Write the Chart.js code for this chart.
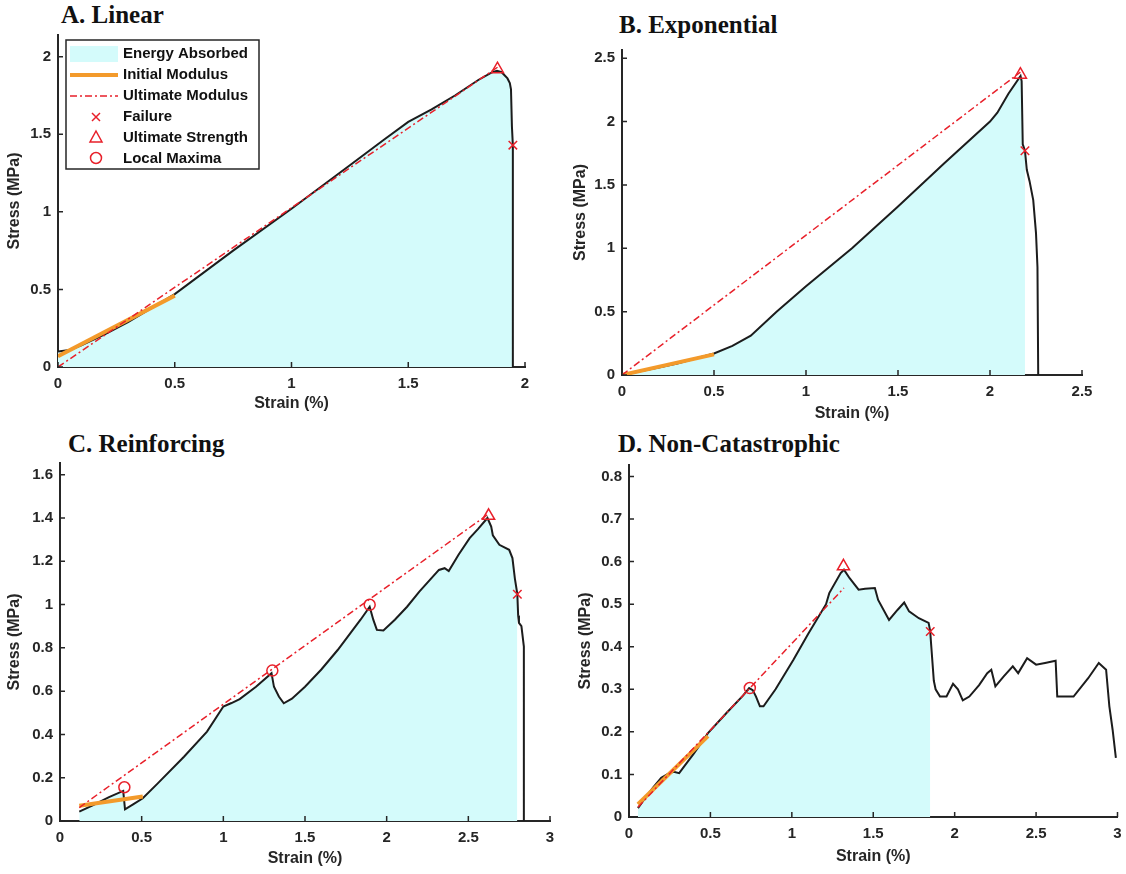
<!DOCTYPE html>
<html>
<head>
<meta charset="utf-8">
<script src="https://cdn.jsdelivr.net/npm/chart.js@4.4.1/dist/chart.umd.min.js"></script>
<style>
  body { margin: 0; background: #fff; width: 1126px; height: 874px; position: relative; overflow: hidden; }
  canvas { position: absolute; }
  .ttl { position: absolute; font: bold 25px "Liberation Serif", "Times New Roman", serif; line-height: 25px; color: #111; white-space: nowrap; }
</style>
</head>
<body>
<div class="ttl" style="left:61px;top:2px">A. Linear</div>
<div class="ttl" style="left:619px;top:12px">B. Exponential</div>
<div class="ttl" style="left:68px;top:431px">C. Reinforcing</div>
<div class="ttl" style="left:618px;top:431px">D. Non-Catastrophic</div>
<canvas id="cA" width="563" height="430" style="left:0;top:0"></canvas>
<canvas id="cB" width="563" height="430" style="left:563px;top:0"></canvas>
<canvas id="cC" width="563" height="444" style="left:0;top:430px"></canvas>
<canvas id="cD" width="563" height="444" style="left:563px;top:430px"></canvas>
<script>
// A. Linear
const linStrain = [0, 0.05, 0.1, 0.2, 0.3, 0.4, 0.5, 0.75, 1.0, 1.25, 1.4, 1.5, 1.6, 1.7, 1.8, 1.86, 1.88, 1.9, 1.925, 1.935, 1.94, 1.944, 1.948, 1.948];
const linStress = [0.10, 0.11, 0.14, 0.21, 0.29, 0.38, 0.47, 0.75, 1.02, 1.30, 1.47, 1.58, 1.66, 1.75, 1.85, 1.90, 1.91, 1.90, 1.86, 1.83, 1.79, 1.55, 1.43, 0];
const linInitial = [[0, 0.07], [0.5, 0.46]];
const linUltimate = [[0, 0], [1.89, 1.94]];
const linFailure = [1.948, 1.43];
const linPeak = [1.882, 1.92];
const linMaxima = [];

// B. Exponential
const expStrain = [0, 0.1, 0.2, 0.3, 0.4, 0.5, 0.6, 0.7, 0.84, 1.0, 1.25, 1.5, 1.75, 2.0, 2.04, 2.1, 2.166, 2.172, 2.178, 2.19, 2.2, 2.215, 2.235, 2.25, 2.258, 2.262];
const expStress = [0, 0.03, 0.06, 0.09, 0.13, 0.17, 0.23, 0.31, 0.5, 0.70, 1.0, 1.33, 1.67, 2.0, 2.07, 2.22, 2.36, 2.32, 1.82, 1.77, 1.62, 1.53, 1.38, 1.12, 0.85, 0];
const expInitial = [[0, 0], [0.5, 0.163]];
const expUltimate = [[0, 0], [2.165, 2.39]];
const expFailure = [2.19, 1.77];
const expPeak = [2.165, 2.37];
const expMaxima = [];

// C. Reinforcing
const reiStrain = [0.118, 0.2, 0.3, 0.387, 0.398, 0.45, 0.507, 0.6, 0.759, 0.9, 1.0, 1.05, 1.1, 1.2, 1.295, 1.31, 1.34, 1.37, 1.42, 1.5, 1.6, 1.7, 1.84, 1.896, 1.918, 1.94, 1.98, 2.05, 2.125, 2.2, 2.32, 2.355, 2.38, 2.44, 2.508, 2.56, 2.617, 2.64, 2.65, 2.69, 2.75, 2.77, 2.785, 2.8, 2.805, 2.81, 2.825, 2.84, 2.84];
const reiStress = [0.043, 0.072, 0.11, 0.139, 0.054, 0.078, 0.105, 0.175, 0.297, 0.413, 0.529, 0.545, 0.563, 0.62, 0.683, 0.62, 0.575, 0.544, 0.565, 0.62, 0.70, 0.79, 0.93, 0.99, 0.93, 0.883, 0.88, 0.93, 0.99, 1.06, 1.16, 1.168, 1.155, 1.23, 1.307, 1.35, 1.40, 1.36, 1.32, 1.276, 1.253, 1.215, 1.12, 1.048, 0.95, 0.915, 0.9, 0.806, 0];
const reiInitial = [[0.118, 0.07], [0.507, 0.113]];
const reiUltimate = [[0.118, 0.062], [2.617, 1.415]];
const reiFailure = [2.8, 1.048];
const reiPeak = [2.624, 1.41];
const reiMaxima = [[0.394, 0.156], [1.3, 0.695], [1.896, 0.999]];

// D. Non-Catastrophic
const ncStrain = [0.055, 0.1, 0.15, 0.198, 0.247, 0.275, 0.308, 0.4, 0.485, 0.6, 0.7, 0.738, 0.76, 0.78, 0.804, 0.826, 0.9, 1.009, 1.1, 1.21, 1.23, 1.3, 1.32, 1.355, 1.41, 1.45, 1.51, 1.53, 1.597, 1.65, 1.69, 1.72, 1.78, 1.84, 1.85, 1.855, 1.872, 1.883, 1.91, 1.95, 1.99, 2.02, 2.05, 2.09, 2.15, 2.2, 2.225, 2.25, 2.3, 2.357, 2.39, 2.445, 2.5, 2.555, 2.62, 2.63, 2.73, 2.82, 2.885, 2.93, 2.95, 2.97, 2.99];
const ncStress = [0.021, 0.045, 0.07, 0.092, 0.103, 0.106, 0.103, 0.15, 0.197, 0.245, 0.285, 0.303, 0.298, 0.283, 0.26, 0.26, 0.30, 0.369, 0.43, 0.50, 0.526, 0.573, 0.581, 0.561, 0.534, 0.536, 0.538, 0.51, 0.463, 0.487, 0.504, 0.483, 0.467, 0.456, 0.436, 0.408, 0.32, 0.30, 0.283, 0.283, 0.313, 0.30, 0.274, 0.283, 0.31, 0.338, 0.346, 0.307, 0.33, 0.354, 0.338, 0.373, 0.358, 0.362, 0.367, 0.283, 0.283, 0.326, 0.362, 0.346, 0.26, 0.205, 0.139];
const ncInitial = [[0.055, 0.03], [0.485, 0.19]];
const ncUltimate = [[0.055, 0.023], [1.32, 0.538]];
const ncFailure = [1.85, 0.436];
const ncPeak = [1.317, 0.589];
const ncMaxima = [[0.742, 0.303]];

const FILL = 'rgb(212,251,251)';
const CURVE = '#1c1c1c';
const ORANGE = '#f39a2b';
const RED = '#e8202a';
const AXIS = '#262626';
const DASHDOT = [7, 3, 2, 3];
const SANS = '"Liberation Sans", Arial, sans-serif';

const pts = (xs, ys) => xs.map((x, i) => ({x, y: ys[i]}));
const pairs = p => p.map(([x, y]) => ({x, y}));
const filledPart = (xs, ys, fail) =>
  pts(xs, ys).filter(p => p.x < fail[0]).concat({x: fail[0], y: fail[1]});

// MATLAB-style tick marks pointing into the plot
const innerTicks = {
  id: 'innerTicks',
  afterDatasetsDraw(chart) {
    const {ctx, chartArea: a, scales: {x, y}} = chart;
    ctx.save();
    ctx.strokeStyle = AXIS;
    ctx.lineWidth = 1.5;
    ctx.beginPath();
    x.ticks.forEach(t => {
      const px = x.getPixelForValue(t.value);
      ctx.moveTo(px, a.bottom); ctx.lineTo(px, a.bottom - 5);
    });
    y.ticks.forEach(t => {
      const py = y.getPixelForValue(t.value);
      ctx.moveTo(a.left, py); ctx.lineTo(a.left + 5, py);
    });
    ctx.stroke();
    ctx.restore();
  }
};

// boxed legend in the upper left of panel A
const boxLegend = {
  id: 'boxLegend',
  afterDraw(chart) {
    const ctx = chart.ctx;
    ctx.save();
    ctx.fillStyle = '#fff';
    ctx.fillRect(66, 40, 193, 129);
    ctx.strokeStyle = AXIS;
    ctx.lineWidth = 1.5;
    ctx.strokeRect(66, 40, 193, 129);

    ctx.fillStyle = FILL;
    ctx.fillRect(70, 46, 48, 16);

    ctx.lineCap = 'butt';
    ctx.strokeStyle = ORANGE; ctx.lineWidth = 4;
    ctx.beginPath(); ctx.moveTo(70, 75); ctx.lineTo(118, 75); ctx.stroke();

    ctx.strokeStyle = RED; ctx.lineWidth = 1.5; ctx.setLineDash(DASHDOT);
    ctx.beginPath(); ctx.moveTo(70, 96); ctx.lineTo(118, 96); ctx.stroke();
    ctx.setLineDash([]);

    ctx.beginPath();
    ctx.moveTo(92, 113); ctx.lineTo(100, 121);
    ctx.moveTo(100, 113); ctx.lineTo(92, 121);
    ctx.stroke();

    ctx.beginPath();
    ctx.moveTo(96, 131); ctx.lineTo(102, 142); ctx.lineTo(90, 142); ctx.closePath();
    ctx.stroke();

    ctx.beginPath(); ctx.arc(96, 158, 5.5, 0, Math.PI * 2); ctx.stroke();

    ctx.fillStyle = '#111';
    ctx.font = 'bold 15px ' + SANS;
    ctx.textBaseline = 'middle';
    ['Energy Absorbed', 'Initial Modulus', 'Ultimate Modulus', 'Failure', 'Ultimate Strength', 'Local Maxima']
      .forEach((t, i) => ctx.fillText(t, 123, 54 + i * 21));
    ctx.restore();
  }
};

function panel(id, d, ax, extra) {
  const datasets = [
    {data: filledPart(d.strain, d.stress, d.failure), fill: 'origin', backgroundColor: FILL,
     borderWidth: 0, pointRadius: 0, showLine: true, order: 6},
    {data: pts(d.strain, d.stress), borderColor: CURVE, borderWidth: 2, pointRadius: 0,
     showLine: true, fill: false, order: 5},
    {data: pairs(d.initial), borderColor: ORANGE, borderWidth: 4, pointRadius: 0,
     showLine: true, fill: false, order: 4},
    {data: pairs(d.ultimate), borderColor: RED, borderWidth: 1.5, borderDash: DASHDOT,
     pointRadius: 0, showLine: true, fill: false, order: 3},
    {data: pairs([d.failure]), pointStyle: 'crossRot', pointRadius: 6, borderColor: RED,
     borderWidth: 1.5, showLine: false, order: 2},
    {data: pairs([d.peak]), pointStyle: 'triangle', pointRadius: 7, borderColor: RED,
     backgroundColor: 'rgba(0,0,0,0)', borderWidth: 1.5, showLine: false, order: 1},
    {data: pairs(d.maxima), pointStyle: 'circle', pointRadius: 5.5, borderColor: RED,
     backgroundColor: 'rgba(0,0,0,0)', borderWidth: 1.5, showLine: false, order: 0}
  ];
  const tickFont = {family: SANS, size: 15, weight: 'bold'};
  const titleFont = {family: SANS, size: 16, weight: 'bold'};
  const fmt = v => String(Number(v.toFixed(2)));
  return new Chart(document.getElementById(id), {
    type: 'scatter',
    data: {datasets},
    options: {
      responsive: false,
      animation: false,
      events: [],
      layout: {padding: {top: ax.top, right: ax.right, left: 0, bottom: 0}},
      elements: {line: {tension: 0}},
      plugins: {legend: {display: false}, tooltip: {enabled: false}},
      scales: {
        x: {
          type: 'linear', min: 0, max: ax.xMax,
          grid: {display: false, drawTicks: false},
          border: {display: true, color: AXIS, width: 2},
          ticks: {stepSize: 0.5, includeBounds: false, padding: 8, color: AXIS, font: tickFont, callback: fmt, maxRotation: 0},
          title: {display: true, text: 'Strain (%)', color: AXIS, font: titleFont, padding: {bottom: ax.xtPad, top: 0}},
          afterFit(s) { s.height = ax.bottom; s.paddingLeft = 0; s.paddingRight = 0; }
        },
        y: {
          type: 'linear', min: 0, max: ax.yMax,
          grid: {display: false, drawTicks: false},
          border: {display: true, color: AXIS, width: 2},
          ticks: {stepSize: ax.yStep, includeBounds: false, padding: 7, color: AXIS, font: tickFont, callback: fmt},
          title: {display: true, text: 'Stress (MPa)', color: AXIS, font: titleFont, padding: {top: ax.ytPad, bottom: 0}},
          afterFit(s) { s.width = ax.left; s.paddingTop = 0; s.paddingBottom = 0; }
        }
      }
    },
    plugins: [innerTicks].concat(extra || [])
  });
}

panel('cA', {strain: linStrain, stress: linStress, initial: linInitial, ultimate: linUltimate,
             failure: linFailure, peak: linPeak, maxima: linMaxima},
      {xMax: 2, yMax: 2.14, yStep: 0.5, left: 58, right: 38, top: 35, bottom: 63, xtPad: 17, ytPad: 5},
      [boxLegend]);

panel('cB', {strain: expStrain, stress: expStress, initial: expInitial, ultimate: expUltimate,
             failure: expFailure, peak: expPeak, maxima: expMaxima},
      {xMax: 2.5, yMax: 2.565, yStep: 0.5, left: 59, right: 44, top: 50, bottom: 55, xtPad: 7, ytPad: 8});

panel('cC', {strain: reiStrain, stress: reiStress, initial: reiInitial, ultimate: reiUltimate,
             failure: reiFailure, peak: reiPeak, maxima: reiMaxima},
      {xMax: 3, yMax: 1.654, yStep: 0.2, left: 60, right: 13, top: 33, bottom: 53, xtPad: 6, ytPad: 5});

panel('cD', {strain: ncStrain, stress: ncStress, initial: ncInitial, ultimate: ncUltimate,
             failure: ncFailure, peak: ncPeak, maxima: ncMaxima},
      {xMax: 3, yMax: 0.827, yStep: 0.1, left: 66, right: 6, top: 35, bottom: 57, xtPad: 8, ytPad: 13});
</script>
</body>
</html>
